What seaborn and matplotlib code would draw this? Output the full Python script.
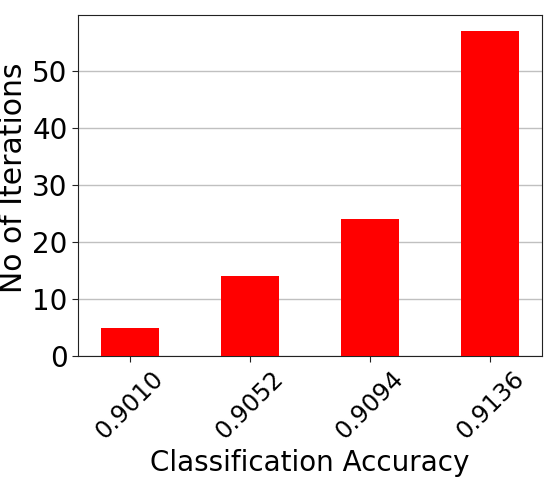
import matplotlib.pyplot as plt
import pandas as pd
import seaborn as sns

# Data
accuracy = ["0.9010", "0.9052", "0.9094", "0.9136"]
iterations = [5, 14, 24, 57]

df = pd.DataFrame({"Classification Accuracy": accuracy, "No of Iterations": iterations})

sns.set_style("white")
plt.rcParams['font.family'] = ['DejaVu Sans']
plt.rcParams['text.color'] = 'black'
plt.rcParams['axes.labelcolor'] = 'black'
plt.rcParams['xtick.color'] = 'black'
plt.rcParams['ytick.color'] = 'black'

fig, ax = plt.subplots(figsize=(5.5, 4.84), dpi=100)
sns.barplot(data=df, x="Classification Accuracy", y="No of Iterations",
            color="red", saturation=1, width=0.48, linewidth=0, ax=ax, zorder=3)

ax.set_xlim(-0.43, 3.43)
ax.set_ylim(0, 59.85)
ax.yaxis.grid(True, color="#c0c0c0", linewidth=1, zorder=0)
ax.set_axisbelow(True)
for s in ax.spines.values():
    s.set_color("#222222")
ax.tick_params(axis="both", length=4, color="#222222", left=True, bottom=True)
ax.tick_params(axis="y", labelsize=20)
ax.tick_params(axis="x", labelsize=17.5)
plt.setp(ax.get_xticklabels(), rotation=45, ha="center")
ax.set_xlabel("Classification Accuracy", fontsize=20, labelpad=4)
ax.set_ylabel("No of Iterations", fontsize=21.5, labelpad=3)
ax.yaxis.label.set_y(0.523)

fig.subplots_adjust(left=0.142, right=0.985, top=0.969, bottom=0.264)
plt.savefig("out.png", dpi=100)
